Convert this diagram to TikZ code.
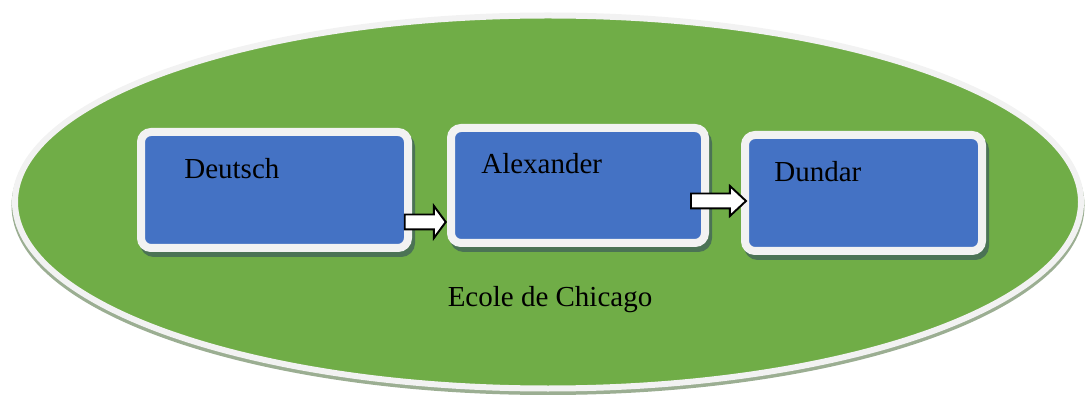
\documentclass[tikz,border=0pt]{standalone}
\usepackage{fontspec}
\setmainfont{Liberation Serif}
\usetikzlibrary{shapes.arrows,shadows}

\definecolor{ovalgreen}{RGB}{112,173,71}
\definecolor{ringgray}{RGB}{242,242,242}
\definecolor{ovalshadow}{RGB}{155,174,146}
\definecolor{boxblue}{RGB}{68,114,196}
\definecolor{boxshadow}{RGB}{75,115,85}

\tikzset{
  author/.style={draw=ringgray,line width=0.16cm,fill=boxblue,rounded corners=0.2cm,
    drop shadow={shadow xshift=0.06cm,shadow yshift=-0.1cm,fill=boxshadow,
      draw=boxshadow,line width=0.16cm,opacity=1}},
  blockarrow/.style={single arrow,draw=black,fill=white,line width=1.1pt,
    inner sep=0.13cm,minimum width=0pt,single arrow head extend=0.17cm}
}

\begin{document}
\begin{tikzpicture}[font=\fontsize{16.5}{20}\selectfont]
  \useasboundingbox (0,0) rectangle (21.74,7.88);
  % oval
  \draw[ovalshadow,line width=0.12cm,fill=ovalshadow] (10.96,3.77) ellipse (10.67 and 3.73);
  \draw[ringgray,line width=0.12cm,fill=ovalgreen] (10.96,3.84) ellipse (10.66 and 3.73);
  \node[anchor=base] (chicago) at (11.0,1.74) {Ecole de Chicago};
  % boxes
  \node[author,minimum width=5.34cm,minimum height=2.32cm] (deutsch) at (5.49,4.08) {};
  \node[author,minimum width=5.08cm,minimum height=2.30cm] (alexander) at (11.56,4.17) {};
  \node[author,minimum width=4.74cm,minimum height=2.32cm] (dundar) at (17.27,4.02) {};
  \node[anchor=base west,inner sep=0pt] (deutschtext) at (3.68,4.30) {Deutsch};
  \node[anchor=base west,inner sep=0pt] (alexandertext) at (9.62,4.40) {Alexander};
  \node[anchor=base west,inner sep=0pt] (dundartext) at (15.48,4.24) {Dundar};
  % arrows
  \node[blockarrow,minimum height=0.82cm,single arrow tip angle=107] (arrowa) at (8.45,3.44) {};
  \node[blockarrow,minimum height=1.1cm,single arrow tip angle=86,
    single arrow head extend=0.15cm] (arrowb) at (14.29,3.86) {};
\end{tikzpicture}
\end{document}
